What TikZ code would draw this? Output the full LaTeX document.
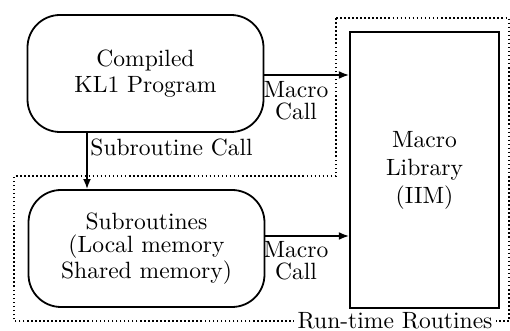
\documentclass[tikz,border=0pt]{standalone}
\usetikzlibrary{arrows.meta}
\begin{document}
\begin{tikzpicture}[x=0.446pt,y=-0.446pt,
  every node/.style={font=\fontsize{10.5}{12}\selectfont,inner sep=0pt},
  procbox/.style={draw,line width=0.8pt,rounded corners=14.5pt,
    minimum width=236*0.446pt,minimum height=117*0.446pt,align=center},
  libbox/.style={draw,line width=0.9pt,minimum width=149*0.446pt,
    minimum height=276*0.446pt,align=center},
  region/.style={line width=0.7pt,dash pattern=on 0.7pt off 1.1pt},
  flow/.style={line width=0.7pt,-{Latex[length=4.5pt,width=3.5pt]}},
  lbl/.style={align=center,font=\fontsize{10.5}{9.8}\selectfont}]
\useasboundingbox (0,0) rectangle (510,331);

% run-time routines region
\draw[region] (336,18) -- (509,18) -- (509,321) -- (14,321) -- (14,176)
  -- (336,176) -- cycle;
\node[fill=white,inner xsep=1.5pt,inner ysep=1pt,anchor=base] (rt) at (395,329)
  {Run-time Routines};

% program parts
\node[procbox,font=\fontsize{10.5}{11.4}\selectfont] (prog) at (145.5,73.5)
  {Compiled\\KL1 Program};
\node[procbox,font=\fontsize{10.5}{10.3}\selectfont] (sub) at (146.5,248.5)
  {Subroutines\\(Local memory\\Shared memory)};
\node[libbox,font=\fontsize{10.5}{12.5}\selectfont] (lib) at (424.5,170)
  {Macro\\Library\\(IIM)};

% calls
\coordinate (p1) at (prog.east |- 0,75);
\coordinate (p2) at (sub.east |- 0,236);
\coordinate (s0) at (87,0);
\draw[flow] (p1) -- (p1 -| lib.west);
\draw[flow] (p2) -- (p2 -| lib.west);
\draw[flow] (prog.south -| s0) -- (sub.north -| s0);

\node[lbl] (mc1) at (296,101) {Macro\\Call};
\node[lbl] (mc2) at (296,261) {Macro\\Call};
\node[anchor=west] (sc) at (90,147) {Subroutine Call};
\end{tikzpicture}
\end{document}
